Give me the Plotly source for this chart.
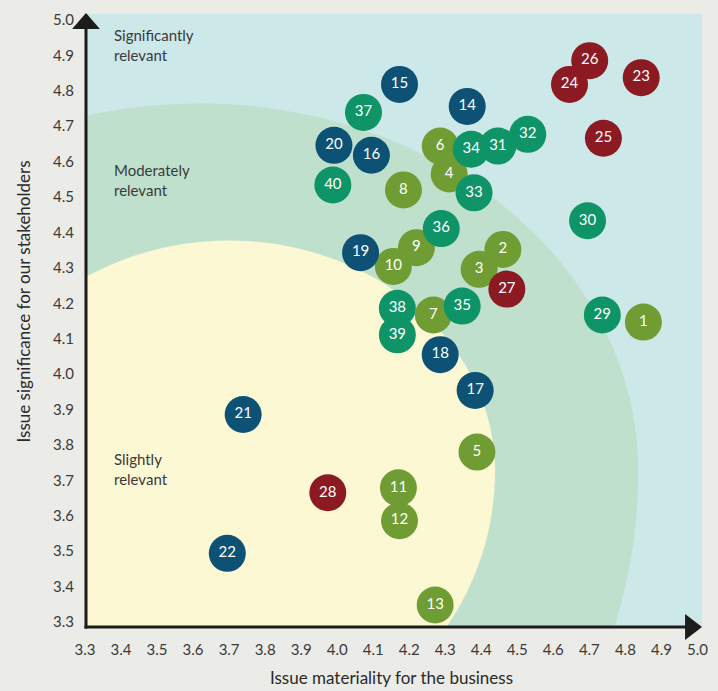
import numpy as np
import plotly.graph_objects as go

# ---- data (draw order: later points are drawn on top) ----
issue_ids = [1, 2, 3, 6, 4, 5, 7, 8, 9, 10, 11, 12, 13,
             14, 15, 20, 16, 17, 18, 19, 21, 22,
             23, 26, 24, 25, 27, 28,
             29, 30, 31, 32, 33, 34, 35, 36, 37, 38, 39, 40]
materiality = [4.850, 4.460, 4.394, 4.286, 4.311, 4.388, 4.267, 4.184, 4.220, 4.156, 4.170, 4.173, 4.272,
               4.361, 4.173, 3.991, 4.095, 4.383, 4.286, 4.065, 3.739, 3.695,
               4.844, 4.701, 4.645, 4.739, 4.471, 3.974,
               4.736, 4.695, 4.446, 4.529, 4.380, 4.372, 4.347, 4.289, 4.073, 4.167, 4.167, 3.988]
significance = [4.147, 4.352, 4.296, 4.644, 4.565, 3.780, 4.167, 4.520, 4.357, 4.304, 3.679, 3.586, 3.348,
                4.756, 4.818, 4.646, 4.618, 3.954, 4.055, 4.343, 3.886, 3.494,
                4.837, 4.885, 4.818, 4.666, 4.240, 3.665,
                4.167, 4.433, 4.644, 4.677, 4.512, 4.635, 4.192, 4.411, 4.739, 4.186, 4.111, 4.534]
groups = ["olive"] * 13 + ["blue"] * 9 + ["red"] * 6 + ["teal"] * 12

group_colors = {"olive": "#6f9d33", "blue": "#0d5275", "red": "#8b1a23", "teal": "#0e9467"}

tick_values = [round(3.3 + 0.1 * i, 1) for i in range(18)]
tick_labels = [f"{v:.1f}" for v in tick_values]

zone_labels = ["Significantly<br>relevant", "Moderately<br>relevant", "Slightly<br>relevant"]
zone_label_x = [3.375, 3.375, 3.375]
zone_label_y = [4.930, 4.548, 3.732]

# zone outlines: (center x, center y, half-width, upper half-height, lower half-height), axis units
moderate_zone = (3.6177, 3.7264, 1.2182, 1.0379, 1.3464)
slight_zone = (3.7006, 3.7264, 0.7376, 0.6508, 0.7630)

x_title = "Issue materiality for the business"
y_title = "Issue significance for our stakeholders"

FONT = "Lato, 'Open Sans', sans-serif"


def zone_path(cx, cy, a, b_up, b_down, n=160):
    t = np.linspace(0, 2 * np.pi, n)
    xs = cx + a * np.cos(t)
    ys = cy + np.where(np.sin(t) >= 0, b_up, b_down) * np.sin(t)
    return "M " + " L ".join(f"{x:.5f},{y:.5f}" for x, y in zip(xs, ys)) + " Z"


fig = go.Figure()
fig.add_trace(go.Scatter(
    x=materiality, y=significance, mode="markers+text",
    text=[str(i) for i in issue_ids],
    textposition="middle center",
    textfont=dict(color="white", size=15, family=FONT),
    marker=dict(size=37, color=[group_colors[g] for g in groups], line=dict(width=0), opacity=1),
    hoverinfo="text", showlegend=False, cliponaxis=False,
))

shapes = []
for zone, col in [(moderate_zone, "#bfe0cd"), (slight_zone, "#fdf8d4")]:
    shapes.append(dict(type="path", xref="x", yref="y", path=zone_path(*zone),
                       fillcolor=col, line=dict(width=0), layer="below"))

# axes with arrows (paper coords; plot area = 620 x 617 px)
W, H = 620.0, 617.0
def px(xp):
    return (xp - 85) / W
def py(yp):
    return (627 - yp) / H
axc = "#1c1c1c"
shapes.append(dict(type="line", xref="paper", yref="paper", x0=px(86), x1=px(86), y0=py(628.5), y1=py(20),
                   line=dict(color=axc, width=3), layer="above"))
shapes.append(dict(type="line", xref="paper", yref="paper", x0=px(84.5), x1=px(695), y0=py(627), y1=py(627),
                   line=dict(color=axc, width=3), layer="above"))
shapes.append(dict(type="path", xref="paper", yref="paper",
                   path=f"M {px(86)} {py(9)} L {px(100)} {py(25)} L {px(72)} {py(25)} Z",
                   fillcolor=axc, line=dict(width=0), layer="above"))
shapes.append(dict(type="path", xref="paper", yref="paper",
                   path=f"M {px(705)} {py(627)} L {px(688)} {py(614)} L {px(688)} {py(640)} Z",
                   fillcolor=axc, line=dict(width=0), layer="above"))

annotations = []
for t, x, y in zip(zone_labels, zone_label_x, zone_label_y):
    annotations.append(dict(text=t, x=x, y=y, xref="x", yref="y", xanchor="left", yanchor="middle",
                            align="left", showarrow=False,
                            font=dict(size=15, color="#3a3a3a", family=FONT)))
annotations.append(dict(text=x_title, x=px(393), y=py(678), xref="paper", yref="paper",
                        xanchor="center", yanchor="middle", showarrow=False,
                        font=dict(size=17, color="#2a2a2a", family=FONT)))
annotations.append(dict(text=y_title, x=px(23), y=py(299), xref="paper", yref="paper",
                        xanchor="center", yanchor="middle", showarrow=False, textangle=-90,
                        font=dict(size=17, color="#2a2a2a", family=FONT)))

fig.update_layout(
    width=718, height=691,
    margin=dict(l=85, r=13, t=10, b=64),
    paper_bgcolor="#ebebe8", plot_bgcolor="#cde8e8",
    shapes=shapes, annotations=annotations,
    xaxis=dict(range=[3.3, 3.3 + 620 / 362], showgrid=False, zeroline=False, showline=False,
               tickvals=tick_values, ticktext=tick_labels, ticks="", ticklabelstandoff=12,
               tickfont=dict(size=15, color="#3a3a3a", family=FONT), fixedrange=True),
    yaxis=dict(range=[3.3 - 5 / 356.5, 5.0 + 6 / 356.5], showgrid=False, zeroline=False, showline=False,
               tickvals=tick_values, ticktext=tick_labels, ticks="", ticklabelstandoff=10,
               tickfont=dict(size=15, color="#3a3a3a", family=FONT), fixedrange=True),
    font=dict(family=FONT),
)

fig.write_html("out.html")
